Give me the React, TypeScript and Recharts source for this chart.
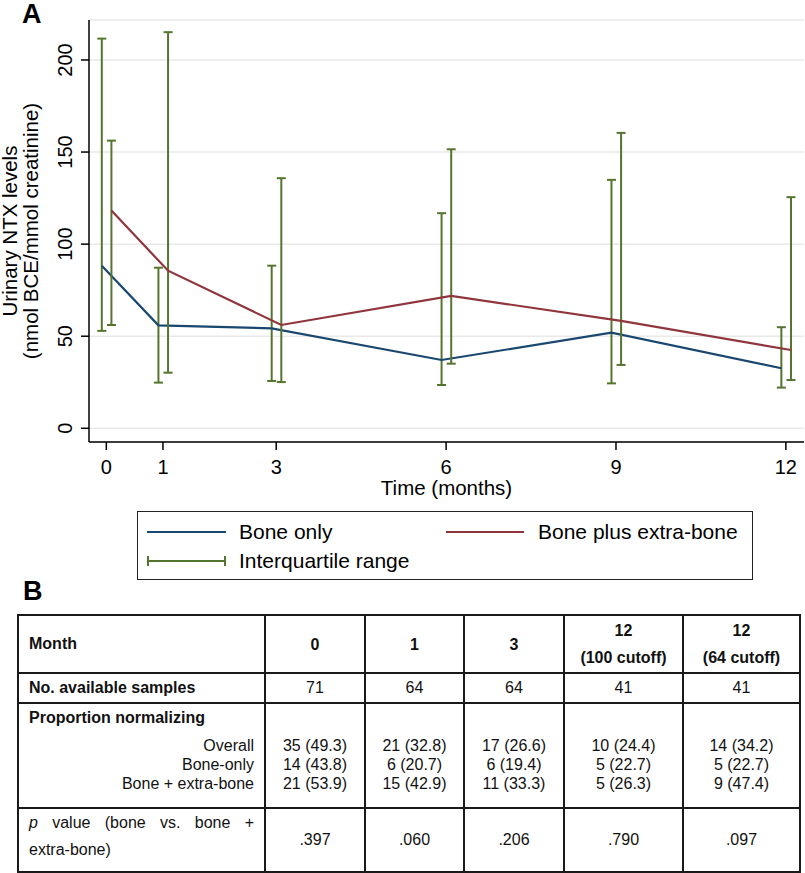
import { LineChart, Line, XAxis, YAxis, CartesianGrid, ErrorBar, Label } from 'recharts';

// Panel A: urinary NTX medians + interquartile range
const MONTHS = [0, 1, 3, 6, 9, 12];
const BONE_ONLY_MEDIAN = [88.2, 55.9, 54.3, 37.1, 51.9, 32.6];
const BONE_ONLY_Q1 = [52.9, 24.8, 25.7, 23.5, 24.4, 22.1];
const BONE_ONLY_Q3 = [211.6, 87.2, 88.3, 116.8, 134.9, 54.9];
const EXTRA_MEDIAN = [118.2, 85.6, 56.1, 71.9, 58.3, 42.5];
const EXTRA_Q1 = [56.1, 30.2, 25.1, 35.1, 34.4, 26.2];
const EXTRA_Q3 = [156.2, 215.1, 135.8, 151.5, 160.4, 125.5];

const X_TICKS = [0, 1, 3, 6, 9, 12];
const Y_TICKS = [0, 50, 100, 150, 200];

// Panel B: table
const TABLE_MONTHS = [['0'], ['1'], ['3'], ['12', '(100 cutoff)'], ['12', '(64 cutoff)']];
const SAMPLES = ['71', '64', '64', '41', '41'];
const OVERALL = ['35 (49.3)', '21 (32.8)', '17 (26.6)', '10 (24.4)', '14 (34.2)'];
const BONE_ONLY_NORM = ['14 (43.8)', '6 (20.7)', '6 (19.4)', '5 (22.7)', '5 (22.7)'];
const EXTRA_NORM = ['21 (53.9)', '15 (42.9)', '11 (33.3)', '5 (26.3)', '9 (47.4)'];
const P_VALUES = ['.397', '.060', '.206', '.790', '.097'];

const NAVY = '#1a476f';
const MAROON = '#90353b';
const GREEN = '#55752f';
const FONT = '"Liberation Sans", Arial, Helvetica, sans-serif';

// small horizontal dodge so the two groups don't overlap
const DODGE_LEFT = -0.08;
const DODGE_RIGHT = 0.09;

const boneOnlyData = MONTHS.map((m, i) => ({
  x: m + DODGE_LEFT,
  y: BONE_ONLY_MEDIAN[i],
  iqr: [BONE_ONLY_MEDIAN[i] - BONE_ONLY_Q1[i], BONE_ONLY_Q3[i] - BONE_ONLY_MEDIAN[i]],
}));

const extraData = MONTHS.map((m, i) => ({
  x: m + DODGE_RIGHT,
  y: EXTRA_MEDIAN[i],
  iqr: [EXTRA_MEDIAN[i] - EXTRA_Q1[i], EXTRA_Q3[i] - EXTRA_MEDIAN[i]],
}));

const XTick = ({ x, y, payload }: any) => (
  <text x={x} y={y + 22} textAnchor="middle" fontSize={20} fill="#000" fontFamily={FONT}>
    {payload.value}
  </text>
);

const YTick = ({ x, y, payload }: any) => (
  <text
    x={x - 7}
    y={y}
    transform={`rotate(-90, ${x - 7}, ${y})`}
    textAnchor="middle"
    fontSize={20}
    fill="#000"
    fontFamily={FONT}
  >
    {payload.value}
  </text>
);

const YTitle = ({ viewBox }: any) => {
  const cy = viewBox.y + viewBox.height / 2;
  return (
    <g fontSize={20.5} fill="#000" fontFamily={FONT}>
      <text x={17} y={cy} transform={`rotate(-90, 17, ${cy})`} textAnchor="middle">
        Urinary NTX levels
      </text>
      <text x={38} y={cy} transform={`rotate(-90, 38, ${cy})`} textAnchor="middle">
        (nmol BCE/mmol creatinine)
      </text>
    </g>
  );
};

const cell: React.CSSProperties = {
  border: '2px solid #1a1a1a',
  padding: 0,
  textAlign: 'center',
};

const COL_WIDTHS = [247, 100, 99, 100, 119, 117];

function Legend() {
  const txt: React.CSSProperties = { position: 'absolute', fontSize: 21, lineHeight: '24px', color: '#000' };
  return (
    <div
      style={{
        position: 'absolute',
        left: 137,
        top: 511,
        width: 616,
        height: 69,
        border: '1px solid #222',
        boxSizing: 'border-box',
      }}
    >
      <svg width={616} height={69} style={{ position: 'absolute', left: -1, top: -1 }}>
        <line x1={10} x2={89} y1={21} y2={21} stroke={NAVY} strokeWidth={2.2} />
        <line x1={309} x2={387} y1={21} y2={21} stroke={MAROON} strokeWidth={2.2} />
        <line x1={10} x2={89} y1={50} y2={50} stroke={GREEN} strokeWidth={2} />
        <line x1={11} x2={11} y1={45} y2={55} stroke={GREEN} strokeWidth={2} />
        <line x1={88} x2={88} y1={45} y2={55} stroke={GREEN} strokeWidth={2} />
      </svg>
      <span style={{ ...txt, left: 101, top: 8 }}>Bone only</span>
      <span style={{ ...txt, left: 400, top: 8 }}>Bone plus extra-bone</span>
      <span style={{ ...txt, left: 101, top: 37 }}>Interquartile range</span>
    </div>
  );
}

function Table() {
  return (
    <table
      style={{
        position: 'absolute',
        left: 17,
        top: 614,
        borderCollapse: 'collapse',
        tableLayout: 'fixed',
        width: 784,
        fontFamily: FONT,
        fontSize: 16,
        color: '#111',
      }}
    >
      <colgroup>
        {COL_WIDTHS.map((w, i) => (
          <col key={i} style={{ width: w }} />
        ))}
      </colgroup>
      <tbody>
        <tr style={{ height: 58 }}>
          <td style={{ ...cell, textAlign: 'left', paddingLeft: 10, fontWeight: 'bold' }}>Month</td>
          {TABLE_MONTHS.map((m, i) => (
            <td key={i} style={{ ...cell, fontWeight: 'bold', lineHeight: '27px' }}>
              {m.map((l, j) => (
                <div key={j}>{l}</div>
              ))}
            </td>
          ))}
        </tr>
        <tr style={{ height: 30 }}>
          <td style={{ ...cell, textAlign: 'left', paddingLeft: 10, fontWeight: 'bold' }}>No. available samples</td>
          {SAMPLES.map((s, i) => (
            <td key={i} style={cell}>
              {s}
            </td>
          ))}
        </tr>
        <tr style={{ height: 105 }}>
          <td style={{ ...cell, verticalAlign: 'top', textAlign: 'left', paddingLeft: 10, paddingRight: 10 }}>
            <div style={{ height: 32, lineHeight: '28px', fontWeight: 'bold' }}>Proportion normalizing</div>
            <div style={{ height: 19, lineHeight: '19px', textAlign: 'right' }}>Overall</div>
            <div style={{ height: 19, lineHeight: '19px', textAlign: 'right' }}>Bone-only</div>
            <div style={{ height: 19, lineHeight: '19px', textAlign: 'right' }}>Bone + extra-bone</div>
          </td>
          {OVERALL.map((o, i) => (
            <td key={i} style={{ ...cell, verticalAlign: 'top', paddingTop: 32 }}>
              <div style={{ height: 19, lineHeight: '19px' }}>{o}</div>
              <div style={{ height: 19, lineHeight: '19px' }}>{BONE_ONLY_NORM[i]}</div>
              <div style={{ height: 19, lineHeight: '19px' }}>{EXTRA_NORM[i]}</div>
            </td>
          ))}
        </tr>
        <tr style={{ height: 64 }}>
          <td
            style={{
              ...cell,
              verticalAlign: 'top',
              textAlign: 'justify',
              paddingLeft: 10,
              paddingRight: 10,
              lineHeight: '27px',
            }}
          >
            <i>p</i> value (bone vs. bone + <span style={{ whiteSpace: 'nowrap' }}>extra-bone)</span>
          </td>
          {P_VALUES.map((p, i) => (
            <td key={i} style={cell}>
              {p}
            </td>
          ))}
        </tr>
      </tbody>
    </table>
  );
}

export default function App() {
  return (
    <div
      style={{
        position: 'absolute',
        left: 0,
        top: 0,
        width: 805,
        height: 873,
        background: '#fff',
        fontFamily: FONT,
        overflow: 'hidden',
      }}
    >
      <div style={{ position: 'absolute', left: 22, top: 1, fontSize: 27, lineHeight: '27px', fontWeight: 'bold' }}>A</div>

      <div style={{ position: 'absolute', left: 0, top: 0 }}>
        <LineChart width={805} height={500} margin={{ top: 20, right: 1, bottom: 0, left: 0 }}>
          <CartesianGrid vertical={false} stroke="#e9e9e9" strokeWidth={1.5} />
          <XAxis
            type="number"
            dataKey="x"
            domain={[-0.306, 12.32]}
            allowDataOverflow
            ticks={X_TICKS}
            interval={0}
            height={58}
            tick={<XTick />}
            tickSize={8}
            axisLine={{ stroke: '#000', strokeWidth: 1.5 }}
            tickLine={{ stroke: '#000', strokeWidth: 1.5 }}
          >
            <Label
              value="Time (months)"
              position="insideBottom"
              offset={5}
              style={{ fontSize: 20.5, fill: '#000', fontFamily: FONT }}
            />
          </XAxis>
          <YAxis
            type="number"
            domain={[-7.44, 221.7]}
            allowDataOverflow
            ticks={Y_TICKS}
            interval={0}
            width={89}
            tick={<YTick />}
            tickSize={8}
            axisLine={{ stroke: '#000', strokeWidth: 1.5 }}
            tickLine={{ stroke: '#000', strokeWidth: 1.5 }}
          >
            <Label content={<YTitle />} />
          </YAxis>
          <Line
            data={boneOnlyData}
            dataKey="y"
            stroke={NAVY}
            strokeWidth={2.2}
            dot={false}
            activeDot={false}
            isAnimationActive={false}
          >
            <ErrorBar dataKey="iqr" direction="y" width={4.5} stroke={GREEN} strokeWidth={2} isAnimationActive={false} />
          </Line>
          <Line
            data={extraData}
            dataKey="y"
            stroke={MAROON}
            strokeWidth={2.2}
            dot={false}
            activeDot={false}
            isAnimationActive={false}
          >
            <ErrorBar dataKey="iqr" direction="y" width={4.5} stroke={GREEN} strokeWidth={2} isAnimationActive={false} />
          </Line>
        </LineChart>
      </div>

      <Legend />

      <div style={{ position: 'absolute', left: 23, top: 578, fontSize: 27, lineHeight: '27px', fontWeight: 'bold' }}>B</div>

      <Table />
    </div>
  );
}
